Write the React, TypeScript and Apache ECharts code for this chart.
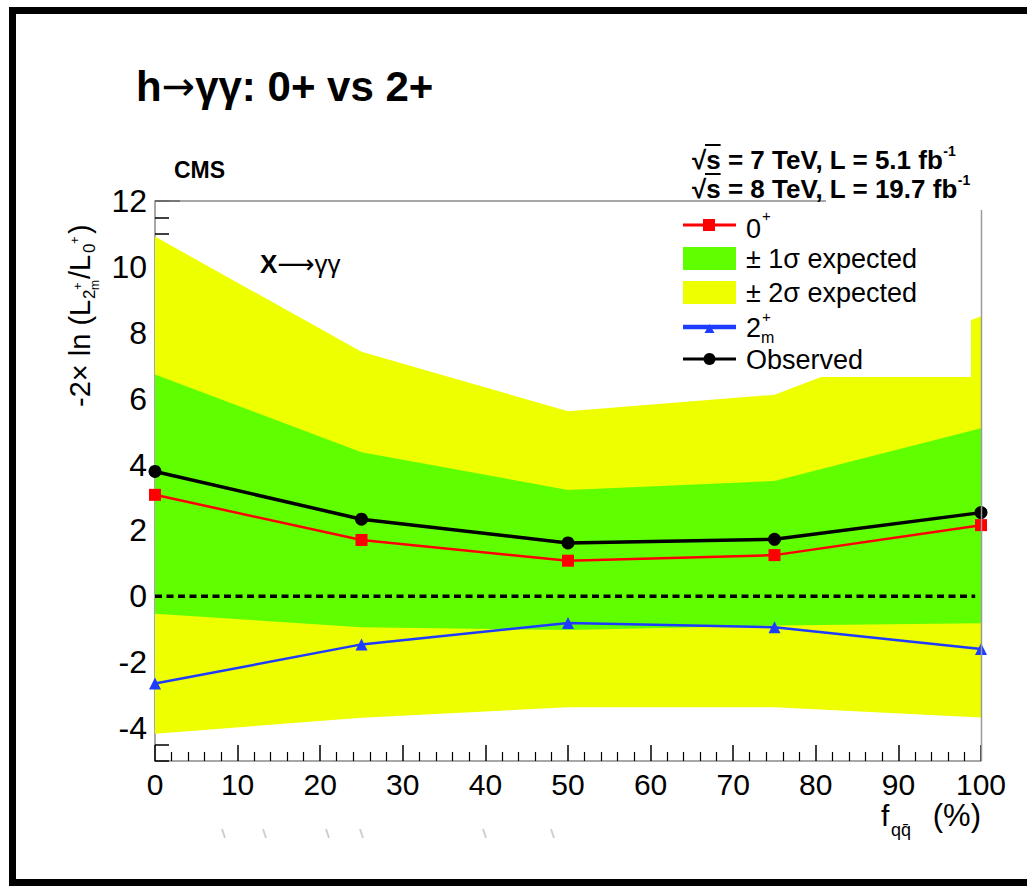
import React, { useEffect, useRef } from "react";
import * as echarts from "echarts";

// f_qqbar fraction (%) at which the hypothesis test was evaluated
const fqq = [0, 25, 50, 75, 100];

// -2 ln(L_2m+/L_0+) test statistic
const observed = [3.79, 2.34, 1.62, 1.73, 2.54];
const expected0plus = [3.08, 1.71, 1.08, 1.25, 2.16];
const expected2mplus = [-2.65, -1.46, -0.81, -0.94, -1.6];

// expected bands around the 0+ hypothesis
const band2Up = [10.92, 7.42, 5.62, 6.12, 8.5];
const band1Up = [6.73, 4.37, 3.23, 3.5, 5.1];
const band1Dn = [-0.53, -0.94, -1.02, -0.89, -0.82];
const band2Dn = [-4.17, -3.69, -3.37, -3.37, -3.68];

const xTicks = [0, 10, 20, 30, 40, 50, 60, 70, 80, 90, 100];
const yMajor = [-4, -2, 0, 2, 4, 6, 8, 10, 12];

const FONT = "'Liberation Sans', Arial, Helvetica, sans-serif";
const ARROW = "'DejaVu Sans', sans-serif";

const YELLOW = "#EEFF00";
const GREEN = "#5FFF00";
const RED = "#FF0000";
const BLUE = "#1E3CFF";

function bandSeries(name: string, upper: number[], lower: number[], color: string, z: number) {
  return {
    name,
    type: "custom",
    silent: true,
    z,
    clip: false,
    data: [[0, 0]],
    encode: { x: 0, y: 1 },
    renderItem: (_p: any, api: any) => {
      const top = fqq.map((x, i) => api.coord([x, upper[i]]));
      const bot = fqq.map((x, i) => api.coord([x, lower[i]])).reverse();
      return {
        type: "polygon",
        shape: { points: top.concat(bot) },
        style: { fill: color, stroke: null },
      };
    },
  };
}

function txt(
  x: number,
  y: number,
  text: string,
  size: number,
  opts: { weight?: string; align?: string; family?: string; fill?: string; vAlign?: string; rich?: any } = {}
) {
  return {
    type: "text",
    x,
    y,
    z: 120,
    silent: true,
    style: {
      text,
      fontSize: size,
      fontFamily: opts.family || FONT,
      fontWeight: opts.weight || "normal",
      fill: opts.fill || "#000",
      align: opts.align || "left",
      textAlign: opts.align || "left",
      verticalAlign: opts.vAlign || "middle",
      textVerticalAlign: opts.vAlign || "middle",
      rich: opts.rich,
    },
  };
}

export default function App() {
  const ref = useRef<HTMLDivElement>(null);

  useEffect(() => {
    if (!ref.current) return;
    const chart = echarts.init(ref.current, undefined, { renderer: "svg" });

    const legendX0 = 683;
    const legendX1 = 736;
    const legendMid = (legendX0 + legendX1) / 2;

    const lumiSize = 26;
    const lumiRich = {
      m: { fontSize: lumiSize, fontWeight: "bold", fontFamily: FONT, lineHeight: 29, verticalAlign: "bottom" },
      s: { fontSize: 14, fontWeight: "bold", fontFamily: FONT, lineHeight: 14, verticalAlign: "top" },
    };
    // overline of the square root over "s"
    const rootBar = (y: number) => ({
      type: "line",
      z: 120,
      silent: true,
      shape: { x1: 692 + 0.5 * lumiSize, y1: y, x2: 692 + 1.1 * lumiSize, y2: y },
      style: { stroke: "#000", lineWidth: 2 },
    });

    const graphics: any[] = [
      // outer frame of the slide
      {
        type: "rect",
        z: 130,
        silent: true,
        shape: { x: 12.5, y: 10.5, width: 1040, height: 872 },
        style: { fill: "none", stroke: "#000", lineWidth: 7 },
      },
      // plot frame: top and right edges
      {
        type: "line",
        z: 110,
        silent: true,
        shape: { x1: 155, y1: 201, x2: 826, y2: 201 },
        style: { stroke: "#8a8a8a", lineWidth: 1.5 },
      },
      {
        type: "line",
        z: 110,
        silent: true,
        shape: { x1: 981.5, y1: 210, x2: 981.5, y2: 761 },
        style: { stroke: "#9a9a9a", lineWidth: 1.5 },
      },
      // legend box
      {
        type: "rect",
        z: 100,
        silent: true,
        shape: { x: 668, y: 202, width: 303, height: 175 },
        style: { fill: "#fff" },
      },
      // legend: 0+
      {
        type: "line",
        z: 110,
        silent: true,
        shape: { x1: legendX0, y1: 225, x2: legendX1, y2: 225 },
        style: { stroke: RED, lineWidth: 3 },
      },
      {
        type: "rect",
        z: 111,
        silent: true,
        shape: { x: legendX0 + 20, y: 219, width: 12, height: 12 },
        style: { fill: RED },
      },
      txt(746, 229, "0", 27),
      txt(762, 215, "+", 15),
      // legend: +-1 sigma
      {
        type: "rect",
        z: 110,
        silent: true,
        shape: { x: legendX0, y: 247, width: legendX1 - legendX0, height: 23 },
        style: { fill: GREEN },
      },
      txt(746, 259, "± 1σ expected", 27),
      // legend: +-2 sigma
      {
        type: "rect",
        z: 110,
        silent: true,
        shape: { x: legendX0, y: 281, width: legendX1 - legendX0, height: 23 },
        style: { fill: YELLOW },
      },
      txt(746, 293, "± 2σ expected", 27),
      // legend: 2m+
      {
        type: "line",
        z: 110,
        silent: true,
        shape: { x1: legendX0, y1: 327, x2: legendX1, y2: 327 },
        style: { stroke: BLUE, lineWidth: 4.5 },
      },
      {
        type: "polygon",
        z: 111,
        silent: true,
        shape: { points: [[legendMid - 5, 333], [legendMid + 5, 333], [legendMid, 324]] },
        style: { fill: BLUE },
      },
      txt(746, 328, "2", 27),
      txt(762, 316, "+", 15),
      txt(761, 337, "m", 16),
      // legend: observed
      {
        type: "line",
        z: 110,
        silent: true,
        shape: { x1: legendX0, y1: 359, x2: legendX1, y2: 359 },
        style: { stroke: "#000", lineWidth: 3 },
      },
      {
        type: "circle",
        z: 111,
        silent: true,
        shape: { cx: legendMid, cy: 359, r: 6 },
        style: { fill: "#000" },
      },
      txt(746, 360, "Observed", 27),
      // slide title
      txt(136, 86, "{a|h}{b|→}{a|γγ: 0+ vs 2+}", 42, {
        weight: "bold",
        rich: {
          a: { fontSize: 42, fontWeight: "bold", fontFamily: FONT },
          b: { fontSize: 40, fontWeight: "normal", fontFamily: ARROW },
        },
      }),
      // CMS label and luminosity
      txt(174, 170, "CMS", 23, { weight: "bold" }),
      txt(692, 158, "{m|√s = 7 TeV, L = 5.1 fb}{s|-1}", lumiSize, { weight: "bold", rich: lumiRich }),
      rootBar(145),
      txt(692, 187, "{m|√s = 8 TeV, L = 19.7 fb}{s|-1}", lumiSize, { weight: "bold", rich: lumiRich }),
      rootBar(174),
      // process label
      txt(260, 264, "{x|X}{a|⟶}{g|γγ}", 25, {
        rich: {
          x: { fontSize: 26, fontWeight: "bold", fontFamily: FONT },
          a: { fontSize: 26, fontFamily: ARROW },
          g: { fontSize: 26, fontFamily: FONT },
        },
      }),
      // x axis title
      txt(881, 815, "f", 30),
      txt(891, 830, "qq\u0304", 18),
      txt(981, 815, "(%)", 31, { align: "right" }),
      // y axis title, rotated to read upwards
      {
        type: "group",
        x: 80,
        y: 407,
        rotation: Math.PI / 2,
        silent: true,
        z: 120,
        children: [
          txt(0, 0, "-2× ln (L", 29),
          txt(108, 9, "2", 17),
          txt(117, -3, "+", 13),
          txt(117, 15, "m", 12),
          txt(128, 0, "/L", 29),
          txt(154, 9, "0", 17),
          txt(163, -6, "+", 13),
          txt(173, 0, ")", 29),
        ],
      },
    ];

    // scanner specks below the axis
    [222, 263, 326, 360, 483, 551].forEach((x) => {
      graphics.push({
        type: "line",
        z: 120,
        silent: true,
        shape: { x1: x, y1: 829, x2: x + 3, y2: 838 },
        style: { stroke: "#cfcfcf", lineWidth: 2 },
      });
    });

    const option: any = {
      animation: false,
      backgroundColor: "#fff",
      grid: { left: 155, right: 46, top: 201, bottom: 125, containLabel: false },
      xAxis: {
        type: "value",
        min: 0,
        max: 100,
        interval: 10,
        axisLine: { show: true, onZero: false, lineStyle: { color: "#8a8a8a", width: 1.5 } },
        axisTick: { show: true, inside: true, length: 16, lineStyle: { color: "#000", width: 1.5 } },
        minorTick: { show: true, splitNumber: 5, length: 9, lineStyle: { color: "#000", width: 1.2 } },
        splitLine: { show: false },
        axisLabel: {
          show: true,
          margin: 8,
          fontSize: 30,
          fontFamily: FONT,
          color: "#000",
          customValues: xTicks,
        },
      },
      yAxis: [
        {
          type: "value",
          min: -5,
          max: 12,
          interval: 0.5,
          axisLine: { show: true, onZero: false, lineStyle: { color: "#8a8a8a", width: 1.5 } },
          axisTick: { show: true, inside: true, length: 14, lineStyle: { color: "#000", width: 1.5 } },
          splitLine: { show: false },
          axisLabel: { show: false },
        },
        {
          type: "value",
          min: -5,
          max: 12,
          position: "left",
          offset: 0,
          axisLine: { show: false },
          axisTick: {
            show: true,
            inside: true,
            length: 25,
            customValues: yMajor,
            lineStyle: { color: "#000", width: 1.5 },
          },
          splitLine: { show: false },
          axisLabel: {
            show: true,
            margin: 8,
            fontSize: 32,
            fontFamily: FONT,
            color: "#000",
            customValues: yMajor,
          },
        },
      ],
      series: [
        bandSeries("± 2σ expected", band2Up, band2Dn, YELLOW, 1),
        bandSeries("± 1σ expected", band1Up, band1Dn, GREEN, 2),
        {
          name: "zero",
          type: "line",
          z: 3,
          silent: true,
          symbol: "none",
          data: [
            [0, 0],
            [99.3, 0],
          ],
          lineStyle: { color: "#000", width: 3.5, type: [7, 4.5] },
        },
        {
          name: "2m+",
          type: "line",
          z: 4,
          clip: false,
          data: fqq.map((x, i) => [x, expected2mplus[i]]),
          symbol: "triangle",
          symbolSize: 12,
          itemStyle: { color: BLUE },
          lineStyle: { color: BLUE, width: 2.5 },
        },
        {
          name: "0+",
          type: "line",
          z: 5,
          clip: false,
          data: fqq.map((x, i) => [x, expected0plus[i]]),
          symbol: "rect",
          symbolSize: 12,
          itemStyle: { color: RED },
          lineStyle: { color: RED, width: 2.5 },
        },
        {
          name: "Observed",
          type: "line",
          z: 6,
          clip: false,
          data: fqq.map((x, i) => [x, observed[i]]),
          symbol: "circle",
          symbolSize: 13,
          itemStyle: { color: "#000" },
          lineStyle: { color: "#000", width: 3.5 },
        },
      ],
      graphic: { elements: graphics },
    };

    chart.setOption(option);
    return () => chart.dispose();
  }, []);

  return (
    <div
      ref={ref}
      style={{ position: "absolute", left: 0, top: 0, width: 1027, height: 886, background: "#fff" }}
    />
  );
}
